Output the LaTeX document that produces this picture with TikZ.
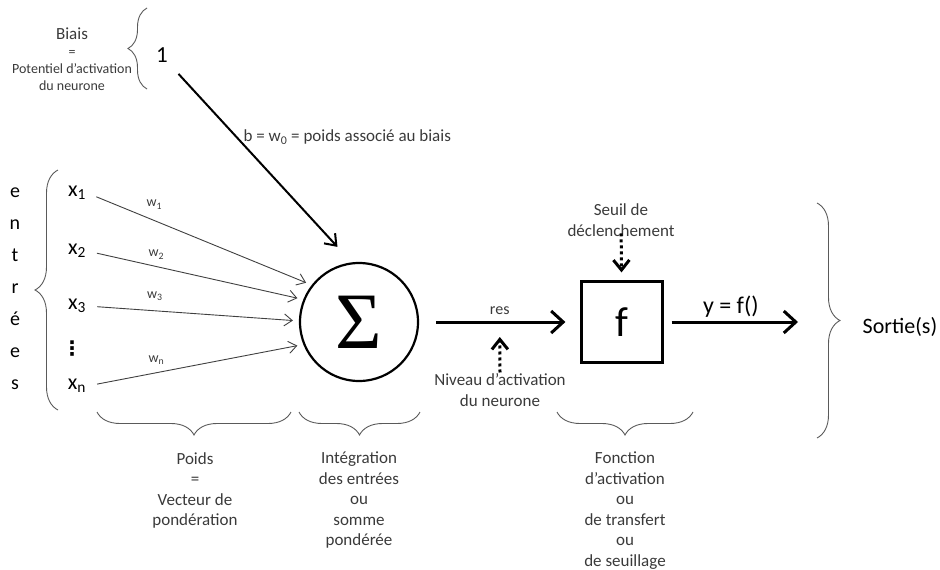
\documentclass[tikz,border=0pt]{standalone}
\usepackage{fontspec}
\setmainfont{Carlito}
\newfontfamily\sigmafont{Liberation Serif}
\newfontfamily\symfont{DejaVu Sans}
\usetikzlibrary{arrows.meta, decorations.pathreplacing}
\definecolor{txtgray}{HTML}{3A3A3A}
\definecolor{bracegray}{HTML}{5A5A5A}
\definecolor{wiregray}{HTML}{404040}
\tikzset{
  lbl/.style={
    align=center,
    text=txtgray,
    inner sep=1pt,
    font=\fontsize{17}{20.5}\selectfont
  },
  smalllbl/.style={
    align=center,
    text=txtgray,
    inner sep=1pt,
    font=\fontsize{14}{17}\selectfont
  },
  var/.style={
    inner sep=1pt,
    font=\fontsize{22}{22}\selectfont
  },
  neuron/.style={
    circle,
    draw,
    line width=2.2pt,
    minimum size=118pt,
    inner sep=0pt,
    font=\sigmafont\fontsize{80}{80}\selectfont
  },
  actbox/.style={
    rectangle,
    draw,
    line width=2.2pt,
    minimum size=81pt,
    inner sep=0pt,
    font=\fontsize{42}{42}\selectfont
  },
  inarrow/.style={-{Straight Barb[length=8pt,width=12pt]}, draw=wiregray, line width=0.9pt},
  biasarrow/.style={-{Straight Barb[length=10pt,width=15pt]}, line width=2pt},
  bigarrow/.style={-{Straight Barb[length=12pt,width=22pt]}, line width=3pt},
  dotarrow/.style={-{Straight Barb[length=10pt,width=16pt]}, line width=3pt, dash pattern=on 3pt off 3pt},
  brc/.style={decorate, decoration={brace, amplitude=23pt}, draw=bracegray, line width=0.9pt}
}

\begin{document}
\begin{tikzpicture}[x=1pt,y=-1pt]
\useasboundingbox (0,0) rectangle (940,570);

% biais
\node[smalllbl] (biais) at (72,59) {{\fontsize{17}{20}\selectfont Biais}\\=\\Potentiel d’activation\\du neurone};
\draw[brc, decoration={amplitude=19pt}] (147,89) -- (147,8);
\node[var, font=\fontsize{23}{23}\selectfont] (one) at (162,55) {1};

% entrees
\node[lbl, font=\fontsize{20}{32}\selectfont, text=black] (entrees) at (15,289) {e\\n\\t\\r\\é\\e\\s};
\draw[brc] (58,410) -- (58,170);
\node[var] (x1) at (77,193) {x\textsubscript{1}};
\node[var] (x2) at (77,251) {x\textsubscript{2}};
\node[var] (x3) at (77,306) {x\textsubscript{3}};
\node[var, font=\symfont\bfseries\fontsize{20}{20}\selectfont] (dots) at (72,349) {⋮};
\node[var] (xn) at (77,386) {x\textsubscript{n}};

\node[neuron] (sum) at (359,322) {Σ};
\node[actbox] (act) at (622,322) {f};
\coordinate (out) at (798,322);

\draw[inarrow, shorten <=10pt, shorten >=6pt] (x1.east) -- node[smalllbl, above=10pt, pos=0.3] {w\textsubscript{1}} (sum.142);
\draw[inarrow, shorten <=10pt, shorten >=6pt] (x2.east) -- node[smalllbl, above=6pt, pos=0.32] {w\textsubscript{2}} (sum.158);
\draw[inarrow, shorten <=10pt, shorten >=6pt] (x3.east) -- node[smalllbl, above=9pt, pos=0.32] {w\textsubscript{3}} (sum.179);
\draw[inarrow, shorten <=10pt, shorten >=6pt] (xn.east) -- node[smalllbl, above=7pt, pos=0.32] {w\textsubscript{n}} (sum.202);

\draw[biasarrow, shorten <=14pt, shorten >=21pt] (one.south east) -- node[lbl, right=5pt, pos=0.37] {b = w\textsubscript{0} = poids associé au biais} (sum.97);

\draw[bigarrow, shorten <=17pt, shorten >=15pt] (sum) -- node[lbl, font=\fontsize{16}{16}\selectfont, above=5pt] {res} coordinate[pos=0.5] (resmid) (act);
\draw[bigarrow, shorten <=8pt] (act) -- node[lbl, text=black, font=\fontsize{24}{24}\selectfont, above=2pt] {y = f()} (out);

\node[lbl] (niveau) at (500,390) {Niveau d’activation\\du neurone};
\draw[dotarrow, shorten >=15pt] (niveau.north) -- (resmid);
\node[lbl] (seuil) at (621,220) {Seuil de\\déclenchement};
\draw[dotarrow, shorten <=-4pt, shorten >=8pt] (seuil) -- (act);

\draw[brc] (817,203) -- (817,438);
\node[var, font=\fontsize{22}{22}\selectfont] (sortie) at (900,327) {Sortie(s)};

% accolades du bas
\draw[brc] (291,412) -- (97,412);
\draw[brc] (420,412) -- (299,412);
\draw[brc] (693,412) -- (557,412);
\node[lbl, anchor=north] (poids) at (195,451) {Poids\\=\\Vecteur de\\pondération};
\node[lbl, anchor=north] (integ) at (359,451) {Intégration\\des entrées\\ou\\somme\\pondérée};
\node[lbl, anchor=north] (fonction) at (625,451) {Fonction\\d’activation\\ou\\de transfert\\ou\\de seuillage};
\end{tikzpicture}
\end{document}
